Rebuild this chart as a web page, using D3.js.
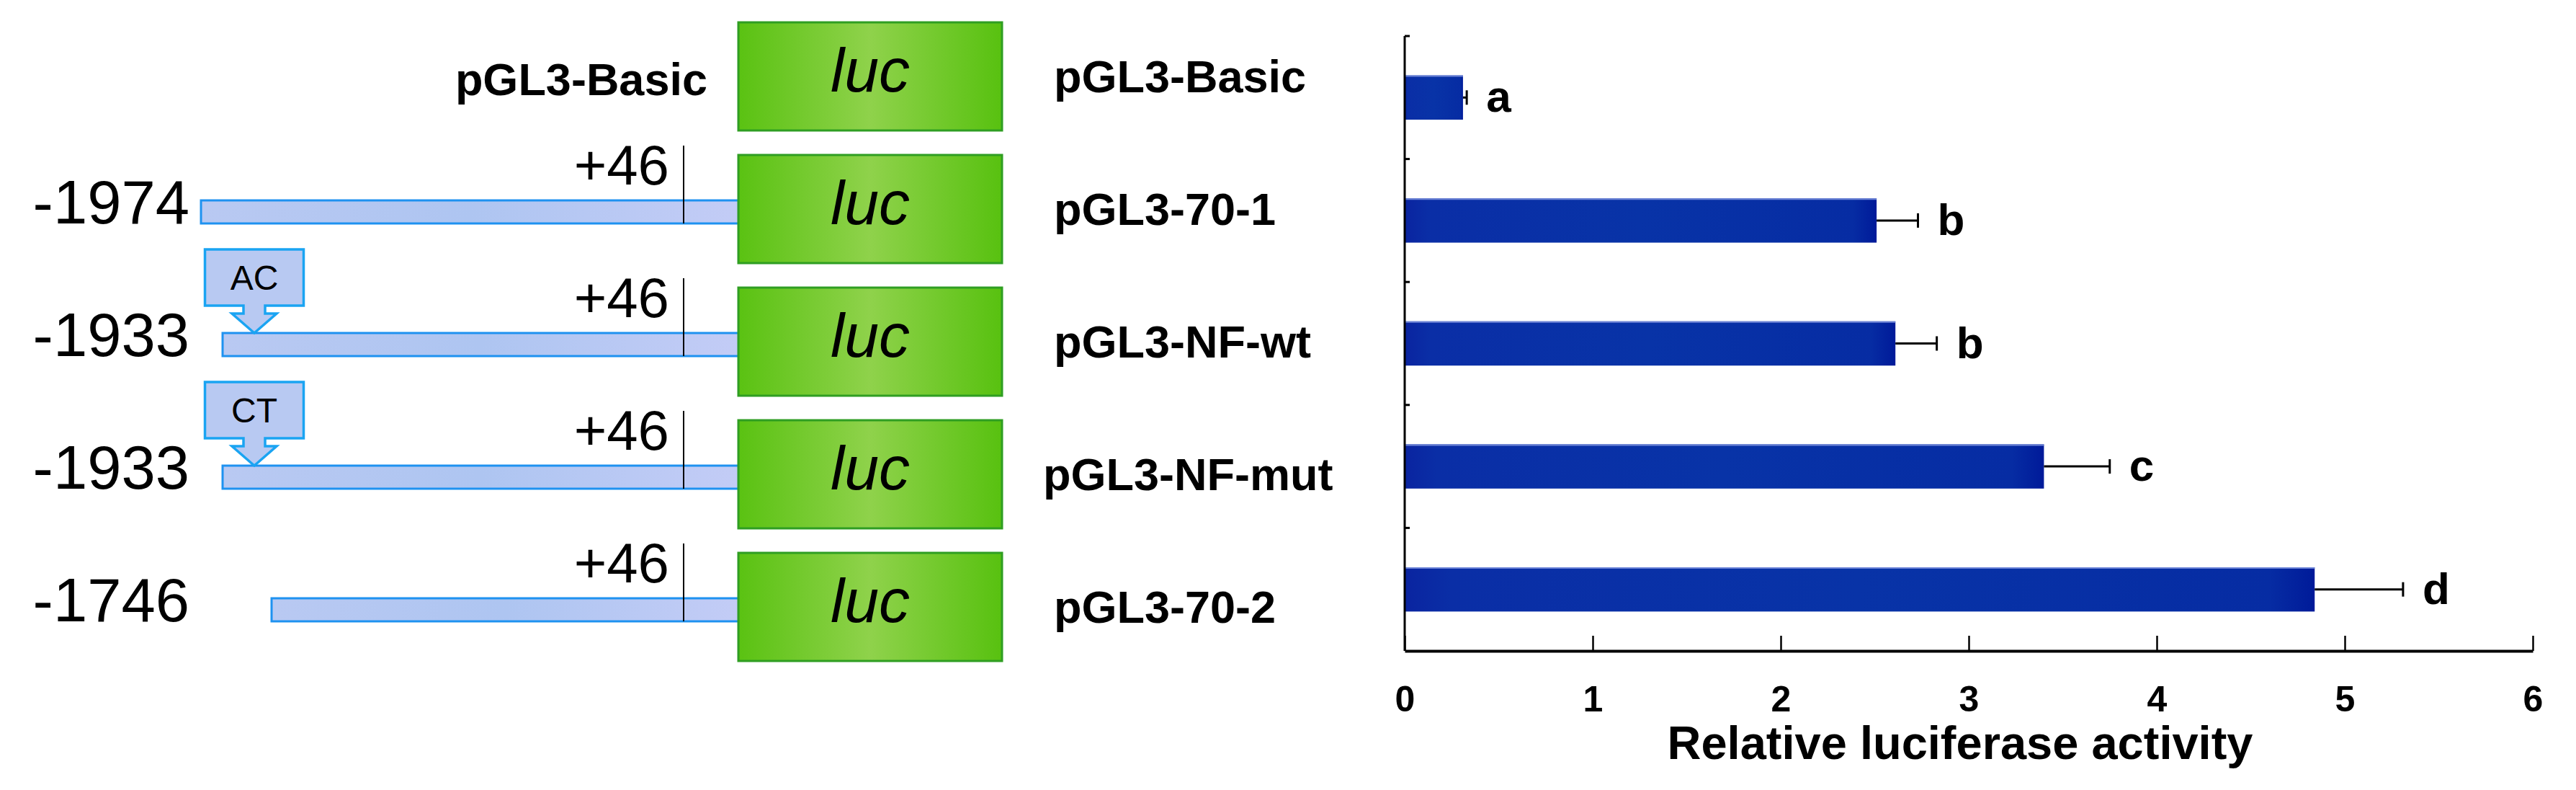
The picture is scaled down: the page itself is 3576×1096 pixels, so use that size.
<!DOCTYPE html>
<html>
<head>
<meta charset="utf-8">
<script src="https://cdn.jsdelivr.net/npm/d3@7"></script>
<style>
  body { margin: 0; background: #fff; }
  text { font-family: "Liberation Sans", Arial, sans-serif; }
</style>
</head>
<body>
<div id="chart"></div>
<script>
// constructs, top to bottom
const constructs = ["pGL3-Basic", "pGL3-70-1", "pGL3-NF-wt", "pGL3-NF-mut", "pGL3-70-2"];
// 5' end of each promoter fragment (null = empty vector)
const startPos = [null, -1974, -1933, -1933, -1746];
const endPos = 46;
const mutations = [null, null, "AC", "CT", null];

// relative luciferase activity
const activity = [0.31, 2.51, 2.61, 3.40, 4.84];
const errors = [0.02, 0.22, 0.22, 0.35, 0.47];
const letters = ["a", "b", "b", "c", "d"];
const xTicks = [0, 1, 2, 3, 4, 5, 6];
const xTitle = "Relative luciferase activity";

const width = 3576, height = 1096;

var svg = d3.select("#chart").append("svg")
    .attr("width", width)
    .attr("height", height);

var defs = svg.append("defs");

function hGrad(id, stops) {
    var g = defs.append("linearGradient").attr("id", id)
        .attr("x1", "0%").attr("x2", "100%").attr("y1", "0%").attr("y2", "0%");
    stops.forEach(function(s) {
        g.append("stop").attr("offset", s[0]).attr("stop-color", s[1]);
    });
}
hGrad("green", [["0%", "#5ac212"], ["50%", "#8fd24b"], ["100%", "#58c110"]]);
hGrad("prom", [["0%", "#b9c9f2"], ["50%", "#aec5f1"], ["100%", "#c3ccf6"]]);
hGrad("blue", [["0%", "#0a24a0"], ["5%", "#0a2ea6"], ["50%", "#0833a7"], ["95%", "#062ca3"], ["100%", "#001a99"]]);

// ---------- left: construct diagrams ----------
var rowY = d3.scalePoint().domain(constructs).range([106, 842]);
var pos = d3.scaleLinear()
    .domain([-1974, -1933, -1746, endPos])
    .range([279, 309, 377, 949]);   // schematic, not to scale

const boxX = 1025, boxW = 366, boxH = 150;
const promH = 32;

var rows = svg.append("g").selectAll("g")
    .data(constructs)
    .enter()
    .append("g")
    .attr("transform", function(d) { return "translate(0," + rowY(d) + ")"; });

rows.each(function(d, i) {
    var g = d3.select(this);

    if (startPos[i] != null) {
        var x0 = pos(startPos[i]);
        var top = 4 - promH / 2;
        g.append("rect")
            .attr("x", x0).attr("y", top)
            .attr("width", boxX + 3 - x0).attr("height", promH)
            .attr("fill", "url(#prom)")
            .attr("stroke", "#1e92f0").attr("stroke-width", 3);

        g.append("text")
            .attr("x", 263).attr("y", 20)
            .attr("text-anchor", "end")
            .attr("font-size", 85)
            .text(startPos[i]);

        g.append("line")
            .attr("x1", pos(endPos)).attr("x2", pos(endPos))
            .attr("y1", -88).attr("y2", top + promH)
            .attr("stroke", "#000").attr("stroke-width", 2);

        g.append("text")
            .attr("x", 929).attr("y", -34)
            .attr("text-anchor", "end")
            .attr("font-size", 78)
            .text("+" + endPos);

        if (mutations[i]) {
            // down-arrow callout pointing at the mutated site
            var cx = x0 + 44, tip = top;
            var bw = 137, bh = 78, sw = 30, sh = 11, hw = 62, hh = 27;
            var by = tip - hh - sh - bh;
            var pts = [
                [cx - bw / 2, by], [cx + bw / 2, by], [cx + bw / 2, by + bh],
                [cx + sw / 2, by + bh], [cx + sw / 2, by + bh + sh], [cx + hw / 2, by + bh + sh],
                [cx, tip],
                [cx - hw / 2, by + bh + sh], [cx - sw / 2, by + bh + sh], [cx - sw / 2, by + bh],
                [cx - bw / 2, by + bh]
            ];
            g.append("path")
                .attr("d", d3.line()(pts) + "Z")
                .attr("fill", "#b8c9f2")
                .attr("stroke", "#1aa4f2").attr("stroke-width", 3.5)
                .attr("stroke-linejoin", "miter");
            g.append("text")
                .attr("x", cx).attr("y", by + bh / 2 + 17)
                .attr("text-anchor", "middle")
                .attr("font-size", 48)
                .text(mutations[i]);
        }
    } else {
        g.append("text")
            .attr("x", 982).attr("y", 26)
            .attr("text-anchor", "end")
            .attr("font-size", 63).attr("font-weight", "bold")
            .text(d);
    }

    g.append("rect")
        .attr("x", boxX).attr("y", -boxH / 2)
        .attr("width", boxW).attr("height", boxH)
        .attr("fill", "url(#green)")
        .attr("stroke", "#2f9e22").attr("stroke-width", 3);

    g.append("text")
        .attr("x", boxX + boxW / 2).attr("y", 21)
        .attr("text-anchor", "middle")
        .attr("font-size", 86).attr("font-style", "italic")
        .text("luc");

    g.append("text")
        .attr("x", d == "pGL3-NF-mut" ? 1448 : 1463).attr("y", 22)
        .attr("font-size", 63).attr("font-weight", "bold")
        .text(d);
});

// ---------- right: bar chart ----------
var x = d3.scaleLinear().domain([0, 6]).range([1950, 3516]);
var y = d3.scaleBand().domain(constructs).range([50, 903])
    .paddingInner(0.64).paddingOuter(0.32);

var chart = svg.append("g");

chart.selectAll(".bar")
    .data(constructs)
    .enter()
    .append("rect")
    .attr("class", "bar")
    .attr("x", x(0))
    .attr("y", function(d) { return y(d); })
    .attr("width", function(d, i) { return x(activity[i]) - x(0); })
    .attr("height", y.bandwidth())
    .attr("fill", "url(#blue)");

// light top edge of each bar
chart.selectAll(".edge")
    .data(constructs)
    .enter()
    .append("line")
    .attr("x1", x(0))
    .attr("x2", function(d, i) { return x(activity[i]); })
    .attr("y1", function(d) { return y(d) + 1; })
    .attr("y2", function(d) { return y(d) + 1; })
    .attr("stroke", "#6f86d8").attr("stroke-width", 2);

// error bars
var err = chart.selectAll(".err")
    .data(constructs)
    .enter()
    .append("g")
    .attr("transform", function(d) { return "translate(0," + (y(d) + y.bandwidth() / 2) + ")"; });

err.append("line")
    .attr("x1", function(d, i) { return x(activity[i]); })
    .attr("x2", function(d, i) { return x(activity[i] + errors[i]); })
    .attr("stroke", "#000").attr("stroke-width", 3);

err.append("line")
    .attr("x1", function(d, i) { return x(activity[i] + errors[i]); })
    .attr("x2", function(d, i) { return x(activity[i] + errors[i]); })
    .attr("y1", -10).attr("y2", 10)
    .attr("stroke", "#000").attr("stroke-width", 3);

err.append("text")
    .attr("x", function(d, i) { return x(activity[i] + errors[i]) + 27; })
    .attr("y", 20)
    .attr("font-size", 62).attr("font-weight", "bold")
    .text(function(d, i) { return letters[i]; });

// y axis with ticks at band edges
var y0 = y.range()[0], y1 = y.range()[1];
chart.append("line")
    .attr("x1", x(0)).attr("x2", x(0))
    .attr("y1", y0).attr("y2", y1)
    .attr("stroke", "#000").attr("stroke-width", 3);

var edges = constructs.map(function(d) { return y(d) - y.step() * y.paddingInner() / 2; });
chart.selectAll(".ytick")
    .data(edges)
    .enter()
    .append("line")
    .attr("x1", x(0)).attr("x2", x(0) + 7)
    .attr("y1", function(d) { return d; })
    .attr("y2", function(d) { return d; })
    .attr("stroke", "#000").attr("stroke-width", 3);

// x axis
var xAxis = chart.append("g")
    .attr("transform", "translate(0," + y1 + ")")
    .call(d3.axisBottom(x).tickValues(xTicks).tickFormat(d3.format("d"))
        .tickSize(-21).tickSizeOuter(0).tickPadding(48));

xAxis.select(".domain").attr("stroke-width", 4);
xAxis.selectAll(".tick line").attr("stroke-width", 2.5);
xAxis.selectAll(".tick text")
    .attr("font-size", 50).attr("font-weight", "bold")
    .attr("font-family", "Liberation Sans, Arial, sans-serif")
    .attr("fill", "#000");

chart.append("text")
    .attr("x", (x.range()[0] + x.range()[1]) / 2 - 12)
    .attr("y", 1053)
    .attr("text-anchor", "middle")
    .attr("font-size", 65).attr("font-weight", "bold")
    .text(xTitle);
</script>
</body>
</html>
